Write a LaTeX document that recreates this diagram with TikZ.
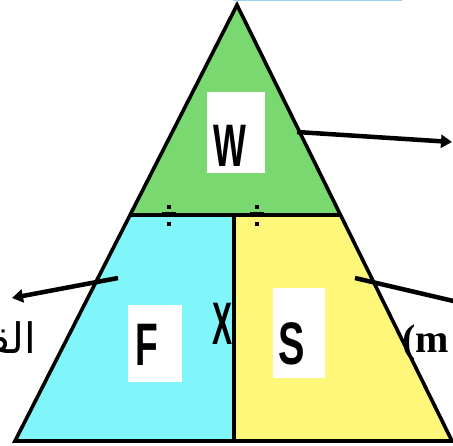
\documentclass[tikz,border=0pt]{standalone}
\usepackage{fontspec}
\setmainfont{Liberation Sans}
\newfontfamily\arabicfont[Script=Arabic]{DejaVu Sans}
\newfontfamily\serifb{Liberation Serif}
\TeXXeTstate=1
\usetikzlibrary{arrows.meta}
\definecolor{grn}{RGB}{121,217,112}
\definecolor{cyn}{RGB}{128,245,250}
\definecolor{ylw}{RGB}{255,247,122}
\definecolor{topblue}{RGB}{150,210,240}
\tikzset{
  edge/.style={line width=3.6pt, line join=miter},
  wbox/.style={fill=white, inner sep=0pt, draw=none},
  letter/.style={inner sep=0pt, font=\fontsize{60}{60}\selectfont},
  arr/.style={line width=4.5pt, -{Triangle[length=11pt,width=13pt]}},
  plain/.style={line width=4.5pt},
  divmark/.style={fill=black}
}
\begin{document}
\begin{tikzpicture}[x=1pt,y=-1pt]
\useasboundingbox (0,0) rectangle (453,446);
\clip (0,0) rectangle (453,446);
% coordinates
\coordinate (A) at (237,5);
\coordinate (BL) at (15,441);
\coordinate (BR) at (452,441);
\coordinate (ML) at (130,215);
\coordinate (MR) at (341,215);
\coordinate (MT) at (234,215);
\coordinate (MB) at (234,441);
% top blue line
\draw[topblue, line width=1.5pt] (233,0.75) -- (402,0.75);
% fills
\fill[grn] (A) -- (ML) -- (MR) -- cycle;
\fill[cyn] (ML) -- (MT) -- (MB) -- (BL) -- cycle;
\fill[ylw] (MT) -- (MR) -- (BR) -- (MB) -- cycle;
% outline
\draw[edge] (A) -- (BR) -- (BL) -- cycle;
\draw[edge] (ML) -- (MR);
\draw[edge] (MT) -- (MB);
% division marks
\fill[divmark] (167,205) rectangle (171,209);
\fill[divmark] (167,222) rectangle (171,226);
\fill[divmark] (162,212.5) rectangle (176,217.5);
\fill[divmark] (255,205) rectangle (259,209);
\fill[divmark] (255,222) rectangle (259,226);
\fill[divmark] (250,212.5) rectangle (264,217.5);
% boxes
\node[wbox, minimum width=58pt, minimum height=81pt] (wb) at (236,132.5) {};
\node[wbox, minimum width=54pt, minimum height=77pt] (fb) at (155,343.5) {};
\node[wbox, minimum width=52pt, minimum height=90pt] (sb) at (299,333) {};
% letters
\node[letter] (W) at (230,146) {\scalebox{0.58}[1]{\bfseries W}};
\node[letter] (F) at (147,345) {\scalebox{0.62}[1]{\bfseries F}};
\node[letter] (S) at (292,343.5) {\scalebox{0.66}[1]{\bfseries S}};
\node[letter] (X) at (223,323.5) {\scalebox{0.5}[1]{\bfseries X}};
% side texts
\node[anchor=east, inner sep=0pt, font=\arabicfont\fontsize{42}{42}\selectfont] (ar) at (36,338) {\beginR القـ\endR};
\node[anchor=base west, inner sep=0pt, font=\serifb\bfseries\fontsize{40}{40}\selectfont] (mt) at (402,353) {(m};
% arrows
\coordinate (a1s) at (297,132);
\coordinate (a1e) at (452,142);
\coordinate (a2s) at (118,278);
\coordinate (a2e) at (12,298);
\coordinate (a3s) at (355,278);
\coordinate (a3e) at (462,303);
\draw[arr] (a1s) -- (a1e);
\draw[arr] (a2s) -- (a2e);
\draw[plain] (a3s) -- (a3e);
\end{tikzpicture}
\end{document}
